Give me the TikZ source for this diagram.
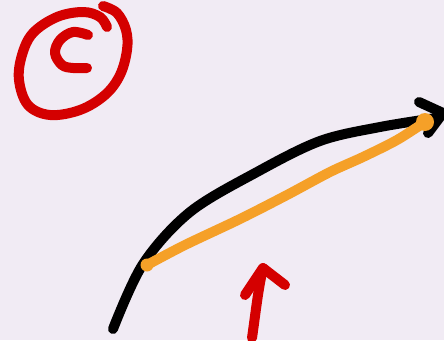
\documentclass[tikz,border=0pt]{standalone}
\begin{document}
\begin{tikzpicture}[x=1pt,y=-1pt,
  ink/.style={line width=10pt,line cap=round,line join=round},
  redink/.style={ink,draw={rgb,255:red,212;green,0;blue,0}},
  blackink/.style={ink,draw=black},
  orangeink/.style={ink,draw={rgb,255:red,245;green,160;blue,40}}]
\definecolor{bgc}{RGB}{241,235,244}
\definecolor{orng}{RGB}{245,160,40}
\fill[bgc] (0,0) rectangle (444,340);
\useasboundingbox (0,0) rectangle (444,340);
% circled c
\draw[redink] plot[smooth,tension=0.6] coordinates {(103,6) (117,13) (126,30) (127,50) (120,75) (105,95) (80,110) (50,115) (28,105) (19,80) (22,55) (33,33) (57,17) (83,12) (100,17) (107,27)};
\draw[redink] plot[smooth,tension=0.6] coordinates {(88,35) (73,32) (60,40) (55,53) (62,65) (73,68) (87,68)};
% black curve
\coordinate (bs) at (113,329);
\coordinate (bt) at (443,113);
\draw[blackink] plot[smooth,tension=0.55] coordinates {(113,329) (143,264) (190,212) (257,172) (320,141) (380,127) (436,118)};
\draw[blackink] (419,102) -- (bt) -- (428,133);
% orange line
\draw[orangeink] plot[smooth,tension=0.5] coordinates {(147,265) (185,245) (240,219) (287,195) (330,172) (363,157) (397,140) (425,122)};
\fill[orng] (147,265) circle (6.5pt);
\fill[orng] (425,122) circle (9pt);
% red arrow
\coordinate (rs) at (252,338);
\coordinate (rt) at (263,268);
\draw[redink] (rs) .. controls (256,310) and (258,290) .. (rt);
\draw[redink] (245,295) -- (rt) -- (285,285);
\end{tikzpicture}
\end{document}
